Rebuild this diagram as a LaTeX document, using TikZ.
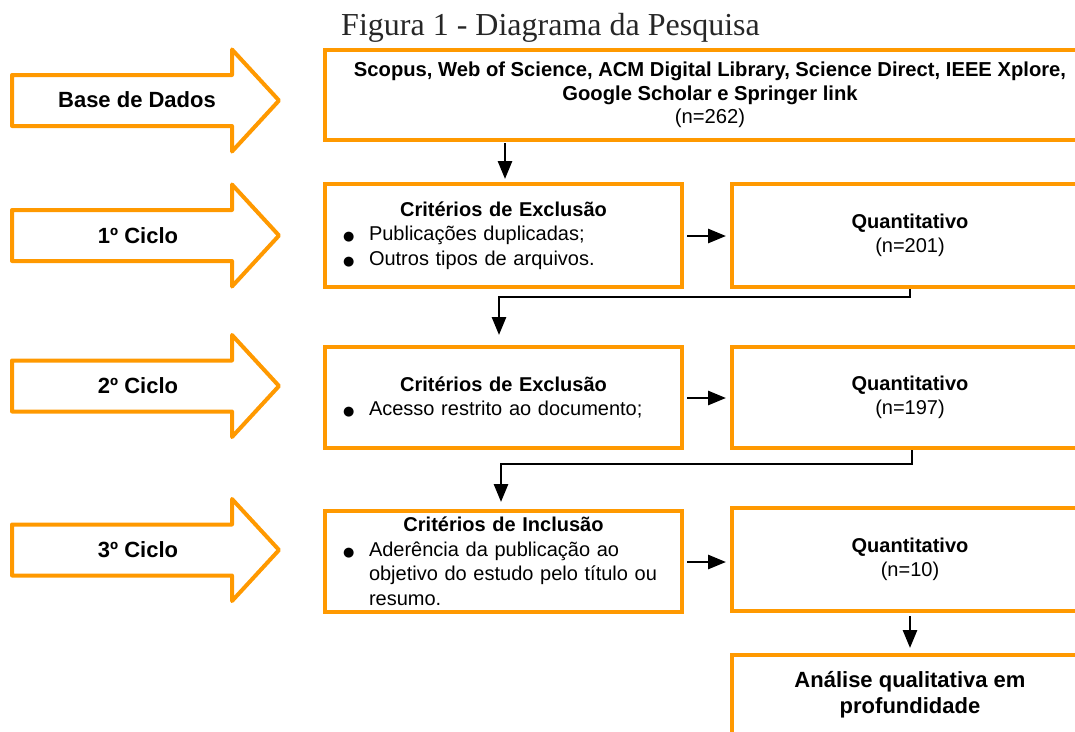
\documentclass[tikz,border=0pt]{standalone}
\usepackage{fontspec}
\setmainfont{Liberation Sans}
\newfontfamily\serifttl{Liberation Serif}
\newfontfamily\dejavu{DejaVu Sans}
\usetikzlibrary{arrows.meta}
\definecolor{gor}{HTML}{FF9900}
\tikzset{
  obox/.style={draw=gor, line width=4pt, fill=white, inner xsep=14pt, inner ysep=0pt,
    font=\fontsize{20}{24.5}\selectfont},
  barrow/.style={draw=gor, line width=4pt, line join=round},
  lbl/.style={font=\fontsize{22}{26}\selectfont\bfseries},
  conn/.style={draw=black, line width=2.8pt, -{Triangle[length=18pt,width=14pt]}},
}
\newcommand{\bitem}[1]{\par\hangindent=30pt\hangafter=1\noindent\makebox[30pt][l]{\hspace{4pt}{\dejavu\fontsize{13}{0}\selectfont ●}}#1}
\begin{document}
\begin{tikzpicture}[x=1pt,y=-1pt]
\useasboundingbox (0,0) rectangle (1075,731);
\clip (0,0) rectangle (1075,731);

\node[font=\serifttl\fontsize{32}{34}\selectfont, text=black!85, anchor=base] (title) at (550.5,35) {Figura 1 - Diagrama da Pesquisa};

% block arrows
\draw[barrow, shift={(0,100.5)}] (12,-25.5) -- (232,-25.5) -- (232,-51) -- (279,0) -- (232,51) -- (232,25.5) -- (12,25.5) -- cycle;
\node[lbl] (l0) at (137,100) {Base de Dados};
\draw[barrow, shift={(0,235.5)}] (12,-25.5) -- (232,-25.5) -- (232,-51) -- (279,0) -- (232,51) -- (232,25.5) -- (12,25.5) -- cycle;
\node[lbl] (l1) at (138,236) {1º Ciclo};
\draw[barrow, shift={(0,386)}] (12,-25.5) -- (232,-25.5) -- (232,-51) -- (279,0) -- (232,51) -- (232,25.5) -- (12,25.5) -- cycle;
\node[lbl] (l2) at (138,386) {2º Ciclo};
\draw[barrow, shift={(0,550)}] (12,-25.5) -- (232,-25.5) -- (232,-51) -- (279,0) -- (232,51) -- (232,25.5) -- (12,25.5) -- cycle;
\node[lbl] (l3) at (138,550) {3º Ciclo};

% boxes
\node[obox, minimum width=770pt, minimum height=90pt, align=center, font=\fontsize{20.2}{23.5}\selectfont] (db) at (710,95)
  {\bfseries Scopus, Web of Science, ACM Digital Library, Science Direct, IEEE Xplore,\\
   \bfseries Google Scholar e Springer link\\(n=262)};

\node[obox, text width=329pt, minimum height=103pt, align=left] (e1) at (503.5,235.5)
  {{\centering\bfseries Critérios de Exclusão\par}\raggedright
   \bitem{Publicações duplicadas;}\bitem{Outros tipos de arquivos.}\par};
\node[obox, minimum width=356pt, minimum height=103pt, align=center] (q1) at (910,235.5)
  {\textbf{Quantitativo}\\(n=201)};

\node[obox, text width=329pt, minimum height=101pt, align=left] (e2) at (503.5,397.5)
  {{\centering\bfseries Critérios de Exclusão\par}\raggedright
   \bitem{Acesso restrito ao documento;}\par\vspace*{24.5pt}};
\node[obox, minimum width=356pt, minimum height=101pt, align=center] (q2) at (910,397.5)
  {\textbf{Quantitativo}\\(n=197)};

\node[obox, text width=329pt, minimum height=101pt, align=left] (e3) at (503.5,561.5)
  {{\centering\bfseries Critérios de Inclusão\par}\raggedright
   \bitem{Aderência da publicação ao\newline objetivo do estudo pelo título ou\newline resumo.}\par};
\node[obox, minimum width=356pt, minimum height=103pt, align=center] (q3) at (910,559.5)
  {\textbf{Quantitativo}\\(n=10)};

\node[obox, minimum width=356pt, minimum height=80pt, align=center, font=\fontsize{22}{26}\selectfont\bfseries] (fin) at (910,695)
  {Análise qualitativa em\\profundidade};

% connectors
\draw[conn, shorten <=1pt, shorten >=3pt] (db.south -| 505,0) -- (e1.north -| 505,0);
\draw[conn, shorten <=3pt, shorten >=4pt] (e1.east |- 0,236) -- (q1.west |- 0,236);
\coordinate (k1) at (910,297);
\coordinate (k1b) at (499,297);
\draw[conn, shorten >=10pt] (q1.south) -- (k1) -- (k1b) -- (e2.north -| k1b);
\draw[conn, shorten <=3pt, shorten >=4pt] (e2.east |- 0,398) -- (q2.west |- 0,398);
\coordinate (k2) at (912,464);
\coordinate (k2b) at (501,464);
\draw[conn, shorten >=7pt] (q2.south -| k2) -- (k2) -- (k2b) -- (e3.north -| k2b);
\draw[conn, shorten <=3pt, shorten >=4pt] (e3.east |- 0,562) -- (q3.west |- 0,562);
\draw[conn, shorten <=3pt, shorten >=5pt] (q3.south) -- (fin.north);
\end{tikzpicture}
\end{document}
